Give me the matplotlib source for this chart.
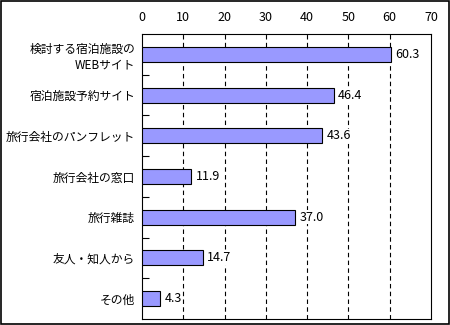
import numpy as np
import matplotlib.pyplot as plt

plt.rcParams['font.family'] = ['Noto Sans CJK JP', 'DejaVu Sans']

categories = ["検討する宿泊施設の\nWEBサイト", "宿泊施設予約サイト", "旅行会社のパンフレット",
              "旅行会社の窓口", "旅行雑誌", "友人・知人から", "その他"]
values = [60.3, 46.4, 43.6, 11.9, 37.0, 14.7, 4.3]
xticks = [0, 10, 20, 30, 40, 50, 60, 70]

fig = plt.figure(figsize=(4.5, 3.25), dpi=100)
ax = fig.add_axes([142 / 450, 6 / 325, 289 / 450, 285 / 325])

y = np.arange(len(categories))
ax.barh(y, values, height=0.37, color="#9999FF", edgecolor="black", linewidth=0.8, zorder=3)

for v in xticks[1:-1]:
    ax.axvline(v, color="black", linestyle=(0, (4, 3)), linewidth=0.8, zorder=1)

for yi, v in zip(y, values):
    ax.text(v + 1.1, yi, f"{v:.1f}", va="center", ha="left", fontsize=9, zorder=4,
            bbox=dict(facecolor="white", edgecolor="none", pad=0.5))

ax.set_xlim(0, 70)
ax.set_ylim(len(categories) - 0.5, -0.5)
ax.set_xticks(xticks)
ax.xaxis.tick_top()
ax.tick_params(axis="x", length=0, labelsize=9, pad=7)
ax.set_yticks(y)
ax.set_yticklabels(categories, fontsize=8.5, linespacing=1.3)
ax.tick_params(axis="y", length=0, pad=5)
ax.set_yticks(np.arange(len(categories) - 1) + 0.5, minor=True)
ax.tick_params(axis="y", which="minor", direction="in", length=5, width=0.8)
for s in ax.spines.values():
    s.set_linewidth(0.8)

fig.patches.append(plt.Rectangle((0.002, 0.003), 0.996, 0.994, transform=fig.transFigure,
                                 fill=False, edgecolor="black", linewidth=1.2))

fig.savefig("out.png", dpi=100)
